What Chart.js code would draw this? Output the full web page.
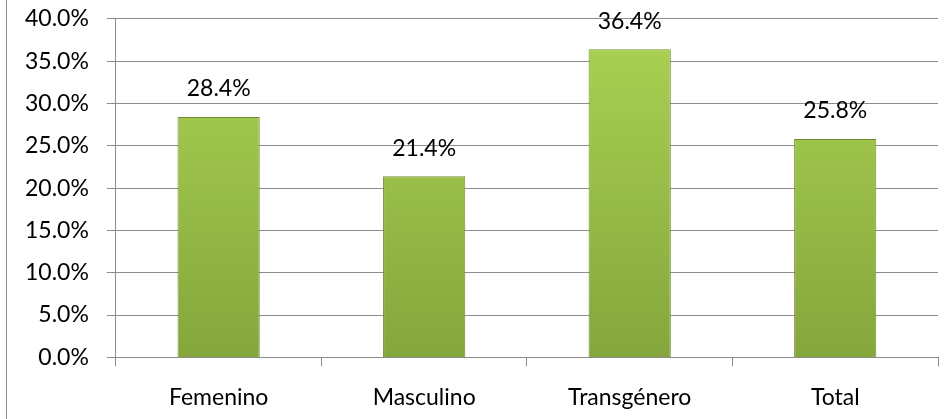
<!DOCTYPE html>
<html>
<head>
<meta charset="utf-8">
<script src="https://cdn.jsdelivr.net/npm/chart.js@4"></script>
<style>
  html, body { margin: 0; padding: 0; background: #fff; overflow: hidden; }
  #wrap { position: relative; width: 952px; height: 419px; overflow: hidden; }
  #frame { position: absolute; left: 6px; top: 0; width: 0; height: 419px; border-left: 1px solid #8a8a8a; z-index: 2; }
  canvas { position: absolute; left: 0; top: -13px; }
</style>
</head>
<body>
<div id="wrap">
  <div id="frame"></div>
  <canvas id="myChart" width="952" height="432"></canvas>
</div>
<script>
const categories = ["Femenino", "Masculino", "Transgénero", "Total"]
const values = [28.4, 21.4, 36.4, 25.8]
const yMin = 0
const yMax = 40
const yStep = 5

const fontFamily = "Lato, 'Open Sans', sans-serif"
const fontSize = 23

// draws the value over each bar
const valueLabels = {
  id: 'valueLabels',
  afterDatasetsDraw(chart) {
    const ctx = chart.ctx
    const meta = chart.getDatasetMeta(0)
    ctx.save()
    ctx.font = `${fontSize}px ${fontFamily}`
    ctx.fillStyle = '#000'
    ctx.textAlign = 'center'
    ctx.textBaseline = 'middle'
    meta.data.forEach((bar, i) => {
      ctx.fillText(values[i].toFixed(1) + '%', bar.x, bar.y - 28)
    })
    ctx.restore()
  }
}

function barFill(context) {
  const chart = context.chart
  const area = chart.chartArea
  if (!area) return '#98be48'
  const g = chart.ctx.createLinearGradient(0, area.top, 0, area.bottom)
  g.addColorStop(0, '#abd354')
  g.addColorStop(1, '#85a63c')
  return g
}

const ctx = document.getElementById('myChart')
new Chart(ctx, {
  type: 'bar',
  data: {
    labels: categories,
    datasets: [{
      data: values,
      backgroundColor: barFill,
      borderColor: '#6f8d2e',
      borderWidth: 1,
      categoryPercentage: 0.4,
      barPercentage: 1
    }]
  },
  options: {
    responsive: false,
    animation: false,
    layout: { padding: { left: 7, right: 14, top: 0, bottom: -9 } },
    plugins: {
      legend: { display: false },
      tooltip: { enabled: false }
    },
    scales: {
      y: {
        min: yMin,
        max: yMax,
        ticks: {
          stepSize: yStep,
          color: '#000',
          padding: 18,
          font: { family: fontFamily, size: fontSize },
          callback: (v) => v.toFixed(1) + '%'
        },
        grid: { color: '#8c8c8c', lineWidth: 1, tickLength: 9 },
        border: { color: '#8c8c8c' }
      },
      x: {
        offset: true,
        ticks: {
          color: '#000',
          padding: 17,
          font: { family: fontFamily, size: fontSize }
        },
        grid: { offset: true, drawOnChartArea: false, color: '#8c8c8c', tickLength: 9 },
        border: { color: '#8c8c8c' }
      }
    }
  },
  plugins: [valueLabels]
})
</script>
</body>
</html>
